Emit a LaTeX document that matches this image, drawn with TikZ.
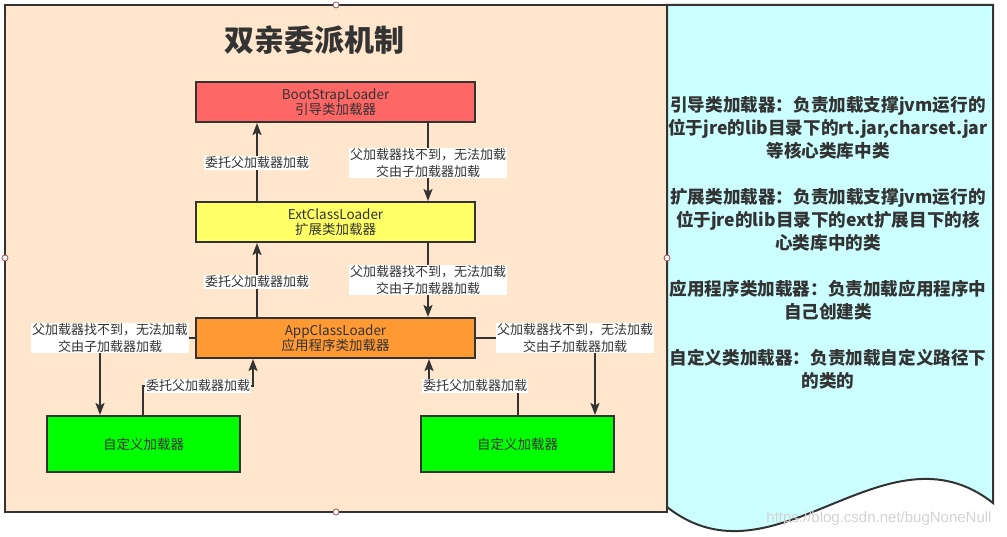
\documentclass[tikz,border=0pt]{standalone}
\usepackage{fontspec}
\setmainfont{Noto Sans CJK SC}
\newfontfamily\wmfont{Liberation Sans}
\usetikzlibrary{arrows.meta}
\definecolor{edge}{HTML}{333333}
\definecolor{peach}{HTML}{FFE6CC}
\definecolor{cyanbg}{HTML}{CCFFFF}
\definecolor{bootc}{HTML}{FF6666}
\definecolor{extc}{HTML}{FFFF66}
\definecolor{appc}{HTML}{FF9933}
\definecolor{custc}{HTML}{00FF00}
\definecolor{handle}{HTML}{A05050}
\begin{document}
\begin{tikzpicture}[x=1pt,y=-1pt,
  box/.style={draw=edge,line width=2pt,minimum width=279pt,minimum height=40pt,text=edge,
    font=\fontsize{13.5}{15}\selectfont,align=center,inner sep=0pt},
  cbox/.style={draw=edge,line width=2pt,minimum width=193pt,minimum height=56pt,fill=custc,text=edge,
    font=\fontsize{13.5}{15}\selectfont,inner sep=0pt},
  arr/.style={draw=edge,line width=2pt,-{Stealth[length=12pt,width=9pt,inset=2.5pt]}},
  lbl/.style={fill=white,text=edge,font=\fontsize{13}{16.5}\selectfont,align=center,inner sep=1pt},
  desc/.style={text=edge,font=\bfseries\fontsize{17.6}{23}\selectfont,align=center,inner sep=0pt},
  hdl/.style={circle,draw=handle,fill=white,line width=0.8pt,minimum size=6pt,inner sep=0pt}
]
\useasboundingbox (0,0) rectangle (1007,537);
% panels
\draw[edge,line width=2pt,fill=peach] (5,5) rectangle (667,512);
\draw[edge,line width=2pt,fill=cyanbg] (667,5) -- (993,5) -- (993,503)
  .. controls (885,418) and (775,592) .. (667,507) -- cycle;
% title
\node[text=edge,font=\bfseries\fontsize{30}{36}\selectfont] (title) at (314,40) {双亲委派机制};
% loaders
\node[box,fill=bootc] (boot) at (335.5,102) {BootStrapLoader\\引导类加载器};
\node[box,fill=extc] (ext) at (335.5,222) {ExtClassLoader\\扩展类加载器};
\node[box,fill=appc] (app) at (335.5,338) {AppClassLoader\\应用程序类加载器};
\node[cbox] (cl) at (143.5,444) {自定义加载器};
\node[cbox] (cr) at (517.5,444) {自定义加载器};
% guide coordinates
\coordinate (xU) at (257,0);
\coordinate (xD) at (428,0);
\coordinate (xA) at (100,0);
\coordinate (xB) at (143,0);
\coordinate (hL) at (253,386);
\coordinate (xE) at (595,0);
\coordinate (xF) at (518,0);
\coordinate (hR) at (429,386);
% connectors
\draw[arr] (ext.north -| xU) -- (boot.south -| xU);
\draw[arr] (boot.south -| xD) -- (ext.north -| xD);
\draw[arr] (app.north -| xU) -- (ext.south -| xU);
\draw[arr] (ext.south -| xD) -- (app.north -| xD);
\draw[arr] (app.west) -| (cl.north -| xA);
\draw[arr] (cl.north -| xB) |- (hL) -- (app.south -| hL);
\draw[arr] (app.east) -| (cr.north -| xE);
\draw[arr] (cr.north -| xF) |- (hR) -- (app.south -| hR);
% labels
\node[lbl] (l1) at (257,163) {委托父加载器加载};
\node[lbl] (l2) at (428,163) {父加载器找不到，无法加载\\交由子加载器加载};
\node[lbl] (l3) at (257,282) {委托父加载器加载};
\node[lbl] (l4) at (428,280) {父加载器找不到，无法加载\\交由子加载器加载};
\node[lbl] (l5) at (110,338) {父加载器找不到，无法加载\\交由子加载器加载};
\node[lbl] (l6) at (198,386) {委托父加载器加载};
\node[lbl] (l7) at (575,338) {父加载器找不到，无法加载\\交由子加载器加载};
\node[lbl] (l8) at (475,386) {委托父加载器加载};
% description
\node[desc] (d1) at (828,128) {引导类加载器：负责加载支撑jvm运行的\\位于jre的lib目录下的rt.jar,charset.jar\\等核心类库中类};
\node[desc] (d2) at (828,220) {扩展类加载器：负责加载支撑jvm运行的\\位于jre的lib目录下的ext扩展目下的核\\心类库中的类};
\node[desc] (d3) at (828,300.5) {应用程序类加载器：负责加载应用程序中\\自己创建类};
\node[desc] (d4) at (828,369.5) {自定义类加载器：负责加载自定义路径下\\的类的};
% watermark
\node[text=gray!35,font=\wmfont\fontsize{15}{15}\selectfont] (wm) at (879,519) {https://blog.csdn.net/bugNoneNull};
% selection handles
\node[hdl] (h1) at (336,5) {};
\node[hdl] (h2) at (5,258) {};
\node[hdl] (h3) at (667,258) {};
\node[hdl] (h4) at (336,512) {};
\end{tikzpicture}
\end{document}
